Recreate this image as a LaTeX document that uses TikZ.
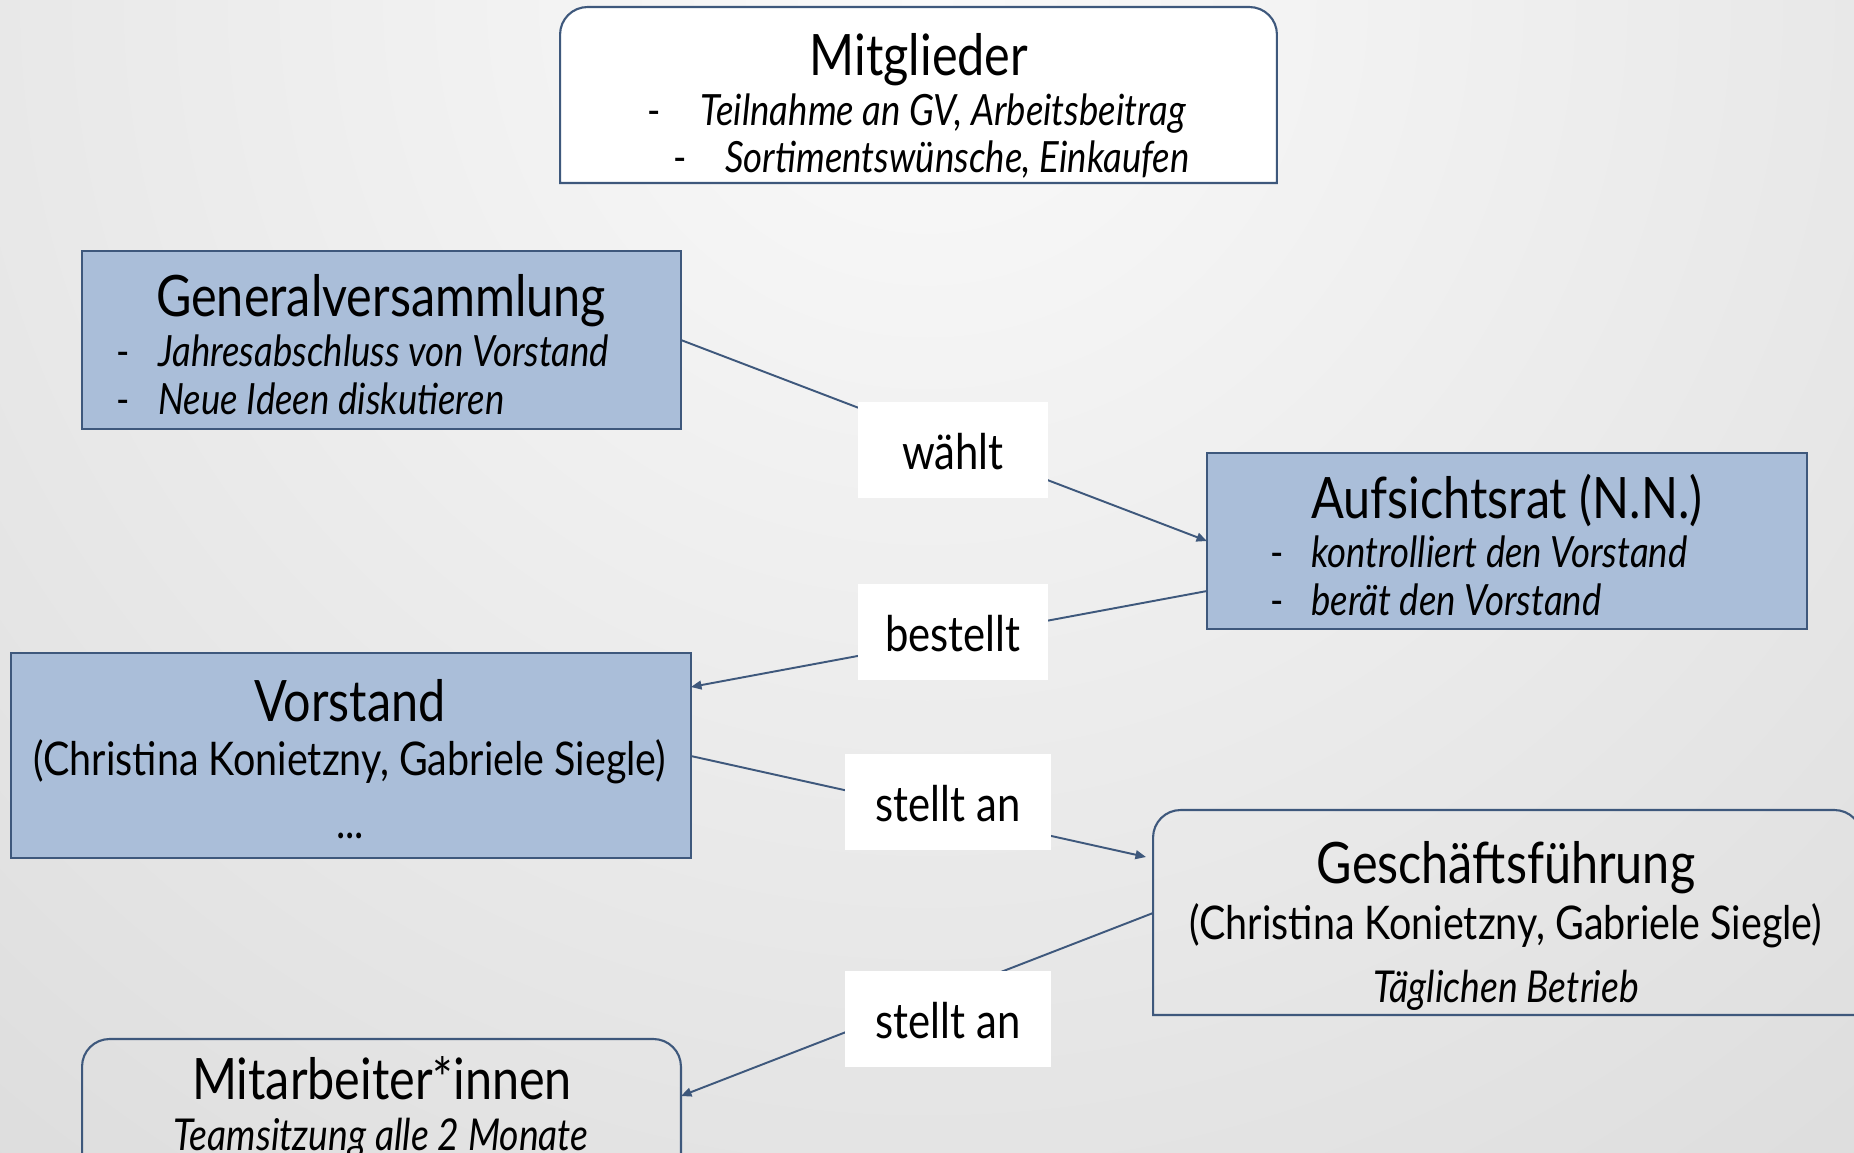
\documentclass[tikz,border=0pt]{standalone}
\usepackage{fontspec}
\setmainfont{Lato}[FakeStretch=0.85]
\usetikzlibrary{arrows.meta}
\definecolor{bord}{RGB}{62,88,124}
\definecolor{boxfill}{RGB}{170,190,217}
\definecolor{bgin}{RGB}{250,250,250}
\definecolor{bgout}{RGB}{196,196,196}
\begin{document}
\begin{tikzpicture}[x=0.02cm,y=-0.02cm,
  box/.style={draw=bord, line width=1.2pt, fill=boxfill, inner sep=0pt, outer sep=0pt},
  frame/.style={inner sep=0pt, outer sep=0pt},
  ttl/.style={font=\fontsize{32.5}{38}\selectfont, anchor=base, inner sep=0pt},
  sub/.style={font=\fontsize{24.5}{28}\selectfont\itshape, anchor=base west, inner sep=0pt},
  subc/.style={font=\fontsize{25}{28}\selectfont\itshape, anchor=base, inner sep=0pt},
  dsh/.style={font=\fontsize{24}{28}\selectfont, anchor=base, inner sep=0pt},
  nm/.style={font=\fontsize{26.4}{30}\selectfont, anchor=base, inner sep=0pt},
  lbl/.style={fill=white, inner sep=0pt, outer sep=0pt, minimum height=1.92cm},
  lbltext/.style={font=\fontsize{28}{32}\selectfont, anchor=base, inner sep=0pt},
  conn/.style={draw=bord, line width=1.1pt},
  arr/.style={conn, -{Triangle[length=6pt,width=5pt]}}
]
\useasboundingbox (0,0) rectangle (1854,1153);
\clip (0,0) rectangle (1854,1153);
\shade[inner color=bgin, outer color=bgout] (927,0) circle (2800);

% boxes
\node[frame, minimum width=14.34cm, minimum height=3.52cm] (mit) at (918.5,95) {};
\draw[draw=bord, line width=1.2pt, fill=white] (mit.south west) [rounded corners=0.55cm] -- (mit.north west) -- (mit.north east) [sharp corners] -- (mit.south east) -- cycle;
\node[box, minimum width=11.98cm, minimum height=3.56cm] (gv) at (381.5,340) {};
\node[box, minimum width=12cm, minimum height=3.52cm] (ar) at (1507,541) {};
\node[box, minimum width=13.6cm, minimum height=4.1cm] (vs) at (351,755.5) {};
\node[frame, minimum width=14.18cm, minimum height=4.1cm] (gf) at (1507.5,912.5) {};
\draw[draw=bord, line width=1.2pt] (gf.south west) [rounded corners=0.55cm] -- (gf.north west) -- (gf.north east) [sharp corners] -- (gf.south east) -- cycle;
\node[frame, minimum width=11.98cm, minimum height=3.22cm] (ma) at (381.5,1119.5) {};
\draw[draw=bord, line width=1.2pt] (ma.south west) [rounded corners=0.55cm] -- (ma.north west) -- (ma.north east) [sharp corners] -- (ma.south east);

% connector end points
\coordinate (arOut) at (ar.west |- 0,591);
\coordinate (vsIn) at (vs.east |- 0,687);
\coordinate (vsOut) at (vs.east |- 0,756);
\coordinate (gfIn) at (1146,857);
\coordinate (gfOut) at (gf.west |- 0,913);
\coordinate (maIn) at (ma.east |- 0,1096);

% connectors
\draw[arr] (gv.east) -- (ar.west);
\draw[arr] (arOut) -- (vsIn);
\draw[arr] (vsOut) -- (gfIn);
\draw[arr] (gfOut) -- (maIn);

% label boxes
\node[lbl, minimum width=3.8cm] (l1) at (953,450) {};
\node[lbl, minimum width=3.8cm] (l2) at (953,632) {};
\node[lbl, minimum width=4.12cm] (l3) at (948,802) {};
\node[lbl, minimum width=4.12cm] (l4) at (948,1019) {};
\node[lbltext] (l1t) at (953,469) {wählt};
\node[lbltext] (l2t) at (953,651) {bestellt};
\node[lbltext] (l3t) at (948,821) {stellt an};
\node[lbltext] (l4t) at (948,1038) {stellt an};

% Mitglieder text
\node[ttl] (mitT) at (919,75) {Mitglieder};
\node[dsh] (mitD1) at (654,125) {-};
\node[sub] (mitS1) at (700,125) {Teilnahme an GV, Arbeitsbeitrag};
\node[dsh] (mitD2) at (680,172) {-};
\node[sub] (mitS2) at (725,172) {Sortimentswünsche, Einkaufen};

% GV text
\node[ttl] (gvT) at (381,316) {Generalversammlung};
\node[dsh] (gvD1) at (123,366) {-};
\node[sub] (gvS1) at (158,366) {Jahresabschluss von Vorstand};
\node[dsh] (gvD2) at (123,414) {-};
\node[sub] (gvS2) at (158,414) {Neue Ideen diskutieren};

% AR text
\node[ttl] (arT) at (1507,518) {Aufsichtsrat (N.N.)};
\node[dsh] (arD1) at (1277,567) {-};
\node[sub] (arS1) at (1311,567) {kontrolliert den Vorstand};
\node[dsh] (arD2) at (1277,615) {-};
\node[sub] (arS2) at (1311,615) {berät den Vorstand};

% Vorstand text
\node[ttl] (vsT) at (350,721) {Vorstand};
\node[nm] (vsN) at (350,775) {(Christina Konietzny, Gabriele Siegle)};
\node[nm] (vsE) at (350,838) {...};

% GF text
\node[ttl] (gfT) at (1506,883) {Geschäftsführung};
\node[nm] (gfN) at (1506,939) {(Christina Konietzny, Gabriele Siegle)};
\node[subc] (gfS) at (1506,1002) {Täglichen Betrieb};

% MA text
\node[ttl] (maT) at (382,1099) {Mitarbeiter*innen};
\node[subc] (maS) at (381,1150) {Teamsitzung alle 2 Monate};
\end{tikzpicture}
\end{document}
